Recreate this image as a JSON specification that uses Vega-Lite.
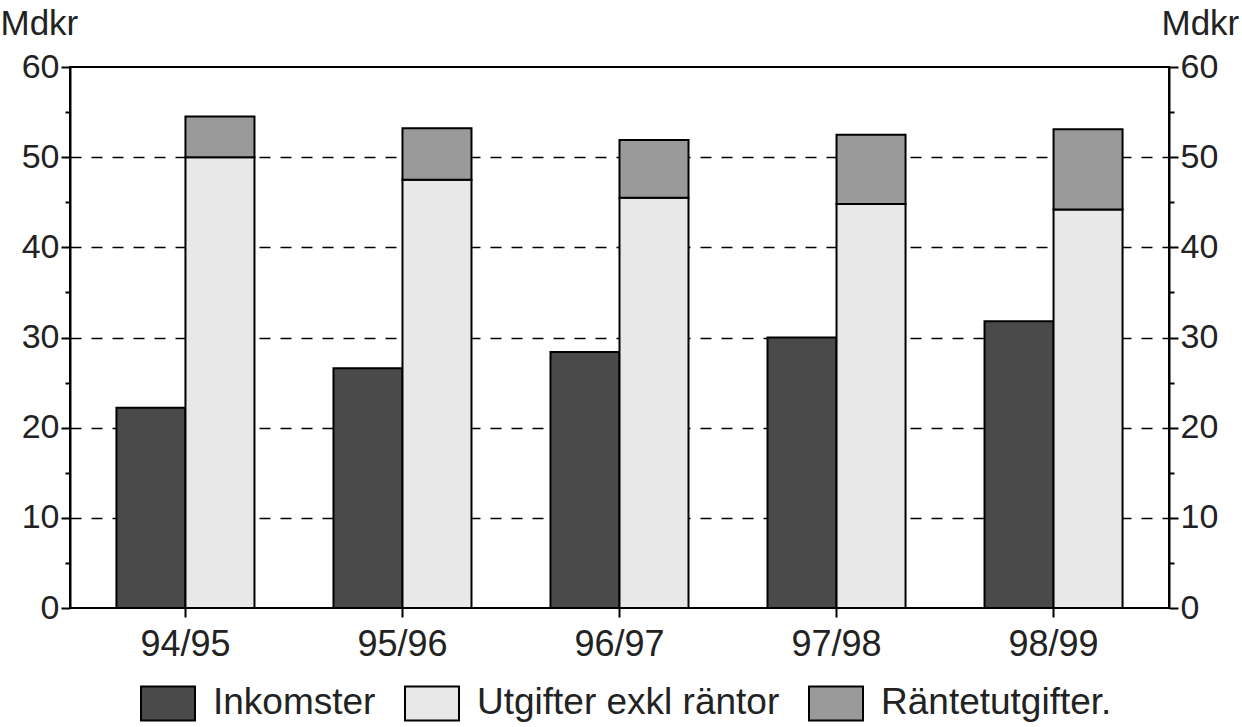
{
  "$schema": "https://vega.github.io/schema/vega-lite/v6.json",
  "width": 1099,
  "height": 541,
  "autosize": {"type": "none"},
  "padding": {"left": 70, "top": 67, "right": 73, "bottom": 119},
  "background": "white",
  "config": {
    "font": "Liberation Sans",
    "view": {"stroke": "black", "strokeWidth": 2},
    "axis": {"domainColor": "black", "domainWidth": 2, "tickColor": "black", "tickWidth": 2, "labelColor": "#222", "titleColor": "#222"}
  },
  "data": {
    "values": [
      {"period": "94/95", "serie": "Inkomster", "grp": "A", "value": 22.2},
      {"period": "94/95", "serie": "Utgifter exkl räntor", "grp": "B", "value": 50.0},
      {"period": "94/95", "serie": "Räntetutgifter.", "grp": "B", "value": 4.5},
      {"period": "95/96", "serie": "Inkomster", "grp": "A", "value": 26.6},
      {"period": "95/96", "serie": "Utgifter exkl räntor", "grp": "B", "value": 47.5},
      {"period": "95/96", "serie": "Räntetutgifter.", "grp": "B", "value": 5.7},
      {"period": "96/97", "serie": "Inkomster", "grp": "A", "value": 28.4},
      {"period": "96/97", "serie": "Utgifter exkl räntor", "grp": "B", "value": 45.5},
      {"period": "96/97", "serie": "Räntetutgifter.", "grp": "B", "value": 6.4},
      {"period": "97/98", "serie": "Inkomster", "grp": "A", "value": 30.0},
      {"period": "97/98", "serie": "Utgifter exkl räntor", "grp": "B", "value": 44.8},
      {"period": "97/98", "serie": "Räntetutgifter.", "grp": "B", "value": 7.7},
      {"period": "98/99", "serie": "Inkomster", "grp": "A", "value": 31.8},
      {"period": "98/99", "serie": "Utgifter exkl räntor", "grp": "B", "value": 44.2},
      {"period": "98/99", "serie": "Räntetutgifter.", "grp": "B", "value": 8.9}
    ]
  },
  "layer": [
    {
      "mark": {"type": "bar", "stroke": "black", "strokeWidth": 2},
      "encoding": {
        "x": {
          "field": "period", "type": "nominal",
          "scale": {"paddingInner": 0.364, "paddingOuter": 0.214},
          "axis": {"title": null, "labelAngle": 0, "labelFontSize": 36, "labelPadding": 10, "tickSize": 9, "domain": false}
        },
        "xOffset": {"field": "grp", "type": "nominal", "scale": {"paddingInner": 0, "paddingOuter": 0}},
        "y": {
          "field": "value", "type": "quantitative", "stack": "zero",
          "scale": {"domain": [0, 60], "nice": false},
          "axis": {
            "orient": "left",
            "title": "Mdkr", "titleAngle": 0, "titleAlign": "left", "titleBaseline": "alphabetic",
            "titleX": -70, "titleY": -33, "titleFontSize": 35, "titleFontWeight": "normal",
            "values": [0, 5, 10, 15, 20, 25, 30, 35, 40, 45, 50, 55, 60],
            "labelExpr": "datum.value % 10 === 0 ? datum.label : ''",
            "labelFontSize": 34, "labelPadding": 2,
            "tickSize": {"condition": {"test": "datum.value % 10 === 0", "value": 9}, "value": 5},
            "grid": true, "gridColor": "black", "gridWidth": 1.5, "gridDash": [11, 10],
            "gridOpacity": {"condition": {"test": "datum.value % 10 === 0 && datum.value > 0 && datum.value < 60", "value": 1}, "value": 0}
          }
        },
        "color": {
          "field": "serie", "type": "nominal",
          "scale": {"domain": ["Inkomster", "Utgifter exkl räntor", "Räntetutgifter."], "range": ["#4a4a4a", "#e8e8e8", "#9a9a9a"]},
          "legend": {
            "title": null, "orient": "none", "legendX": 70, "legendY": 608, "direction": "horizontal",
            "labelFontSize": 37, "labelColor": "#222", "labelLimit": 400,
            "symbolType": "M-1,-0.63L1,-0.63L1,0.63L-1,0.63Z", "symbolSize": 2916,
            "symbolStrokeColor": "black", "symbolStrokeWidth": 2, "symbolOpacity": 1,
            "columnPadding": 25, "labelOffset": 17
          }
        },
        "order": {"field": "serie", "sort": "descending"}
      }
    },
    {
      "mark": {"type": "bar", "opacity": 0},
      "encoding": {
        "x": {"field": "period", "type": "nominal", "scale": {"paddingInner": 0.364, "paddingOuter": 0.214}},
        "xOffset": {"field": "grp", "type": "nominal"},
        "y": {
          "field": "value", "type": "quantitative", "stack": "zero",
          "scale": {"domain": [0, 60], "nice": false},
          "axis": {
            "orient": "right",
            "title": "Mdkr", "titleAngle": 0, "titleAlign": "left", "titleBaseline": "alphabetic",
            "titleX": -8, "titleY": -33, "titleFontSize": 35, "titleFontWeight": "normal",
            "values": [0, 5, 10, 15, 20, 25, 30, 35, 40, 45, 50, 55, 60],
            "labelExpr": "datum.value % 10 === 0 ? datum.label : ''",
            "labelFontSize": 34, "labelPadding": 2,
            "tickSize": {"condition": {"test": "datum.value % 10 === 0", "value": 9}, "value": 5},
            "grid": false
          }
        }
      }
    }
  ],
  "resolve": {"scale": {"y": "independent"}}
}
